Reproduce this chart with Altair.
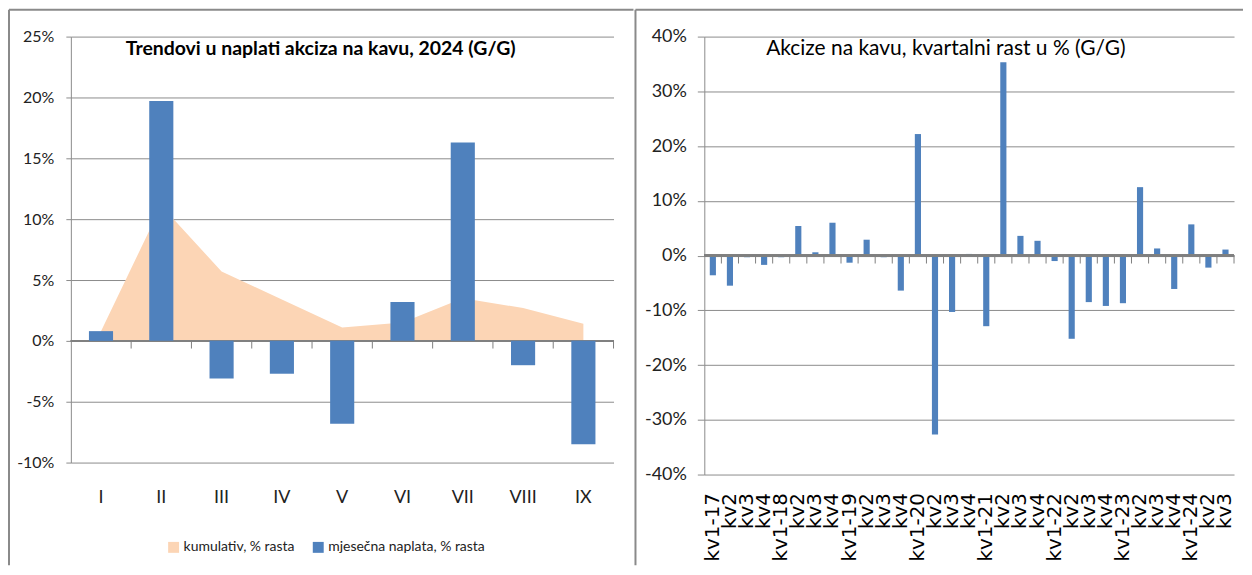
import json
import altair as alt
import pandas as pd

# ---------------- data ----------------
months = ["I", "II", "III", "IV", "V", "VI", "VII", "VIII", "IX"]
monthly = [0.8, 19.7, -3.1, -2.7, -6.8, 3.2, 16.3, -2.0, -8.5]
cumulative = [0.8, 11.1, 5.7, 3.4, 1.1, 1.5, 3.5, 2.7, 1.4]
series_names = ["kumulativ, % rasta", "mjesečna naplata, % rasta"]

q_labels = ["kv1-17", "kv2", "kv3", "kv4",
            "kv1-18", "kv2", "kv3", "kv4",
            "kv1-19", "kv2", "kv3", "kv4",
            "kv1-20", "kv2", "kv3", "kv4",
            "kv1-21", "kv2", "kv3", "kv4",
            "kv1-22", "kv2", "kv3", "kv4",
            "kv1-23", "kv2", "kv3", "kv4",
            "kv1-24", "kv2", "kv3"]
q_values = [-3.6, -5.5, -0.3, -1.7,
            -0.3, 5.4, 0.6, 6.0,
            -1.3, 2.9, -0.3, -6.4,
            22.2, -32.7, -10.3, 0.3,
            -12.9, 35.3, 3.6, 2.7,
            -1.0, -15.2, -8.5, -9.2,
            -8.7, 12.5, 1.3, -6.1,
            5.7, -2.2, 1.1]

left_title = "Trendovi u naplati akciza na kavu, 2024 (G/G)"
right_title = "Akcize na kavu, kvartalni rast u % (G/G)"

left_ticks = [-10, -5, 0, 5, 10, 15, 20, 25]
right_ticks = [-40, -30, -20, -10, 0, 10, 20, 30, 40]

# ---------------- style ----------------
FONT = "Lato, Open Sans, sans-serif"
QFONT = "DejaVu Sans, sans-serif"
BLUE = "#4F81BD"
PEACH = "#FCD5B5"
GRID = "#8C8C8C"
FRAME = "#8A8A8A"

LW, LH = 544, 427
RW, RH = 531, 439

# ---------------- left panel ----------------
ldf = pd.DataFrame({"m": months, "monthly": monthly, "cum": cumulative})
color_scale = alt.Scale(domain=series_names, range=[PEACH, BLUE])
legend = alt.Legend(title=None, orient="none", legendX=96, legendY=505,
                    direction="horizontal", symbolType="square", symbolSize=120,
                    symbolStrokeWidth=0, labelFontSize=14, labelFont=FONT,
                    labelColor="#222", columnPadding=16, labelOffset=3, labelLimit=400)

xl_scale = alt.Scale(paddingInner=0, paddingOuter=0)
xl_axis = alt.Axis(title=None, domain=False, ticks=False, labelAngle=0,
                   labelPadding=26, labelFontSize=18, labelColor="#222")
yl_scale = alt.Scale(domain=[-10, 25], nice=False)
yl_axis = alt.Axis(title=None, values=left_ticks, labelExpr="datum.value + '%'",
                   grid=True, gridColor=GRID, domainColor=GRID, tickColor=GRID,
                   tickSize=5, labelPadding=12, labelFontSize=16, labelColor="#222")

lbase = alt.Chart(ldf)
l_area = lbase.mark_area(opacity=1).transform_calculate(s="'" + series_names[0] + "'").encode(
    x=alt.X("m:N", sort=months, scale=xl_scale, axis=xl_axis),
    y=alt.Y("cum:Q", scale=yl_scale, axis=yl_axis),
    color=alt.Color("s:N", scale=color_scale, legend=legend),
)
l_zero = lbase.mark_rule(color="#7F7F7F", strokeWidth=1).encode(y=alt.datum(0))
l_ticks = lbase.mark_rule(color="#7F7F7F", strokeWidth=1).encode(
    x=alt.X("m:N", sort=months, bandPosition=1),
    y=alt.datum(0), y2=alt.datum(-0.63),
)
l_bars = lbase.mark_bar(width={"band": 0.4}).transform_calculate(s="'" + series_names[1] + "'").encode(
    x=alt.X("m:N", sort=months),
    y=alt.Y("monthly:Q"),
    color=alt.Color("s:N", scale=color_scale, legend=legend),
)
l_title = alt.Chart(pd.DataFrame({"t": [left_title]})).mark_text(
    align="left", baseline="middle", font=FONT, fontSize=19.5, fontWeight="bold", color="#000"
).encode(text="t:N", x=alt.value(55), y=alt.value(12))

fdf = pd.DataFrame({"a": [0]})
l_frame_v = alt.Chart(fdf).mark_rule(color=FRAME, strokeWidth=2).encode(
    x=alt.value(-62), y=alt.value(-27), y2=alt.value(530))
l_frame_h = alt.Chart(fdf).mark_rule(color=FRAME, strokeWidth=2).encode(
    x=alt.value(-62), x2=alt.value(564), y=alt.value(-27))

left = alt.layer(l_frame_v, l_frame_h, l_area, l_zero, l_ticks, l_bars, l_title).properties(
    width=LW, height=LH)

# ---------------- right panel ----------------
keys = [f"q{i:02d}" for i in range(len(q_labels))]
label_map = json.dumps(dict(zip(keys, q_labels)))
rdf = pd.DataFrame({"k": keys, "v": q_values})

xr_scale = alt.Scale(paddingInner=0, paddingOuter=0)
xr_axis = alt.Axis(title=None, domain=False, ticks=False, labelAngle=270,
                   labelExpr=label_map + "[datum.value]", labelPadding=18,
                   labelFont=QFONT, labelFontSize=20, labelColor="#000")
yr_scale = alt.Scale(domain=[-40, 40], nice=False)
yr_axis = alt.Axis(title=None, values=right_ticks, labelExpr="datum.value + '%'",
                   grid=True, gridColor=GRID, domainColor=GRID, tickColor=GRID,
                   tickSize=7, labelPadding=11, labelFontSize=18, labelColor="#222")

rbase = alt.Chart(rdf)
r_zero = rbase.mark_rule(color="#7F7F7F", strokeWidth=1.5).encode(y=alt.datum(0))
r_ticks = rbase.mark_rule(color="#7F7F7F", strokeWidth=1).encode(
    x=alt.X("k:N", sort=keys, bandPosition=1),
    y=alt.datum(0), y2=alt.datum(-1.45),
)
r_bars = rbase.mark_bar(width={"band": 0.36}, color=BLUE).encode(
    x=alt.X("k:N", sort=keys, scale=xr_scale, axis=xr_axis),
    y=alt.Y("v:Q", scale=yr_scale, axis=yr_axis),
)
r_title = alt.Chart(pd.DataFrame({"t": [right_title]})).mark_text(
    align="left", baseline="middle", font=FONT, fontSize=21, color="#000"
).encode(text="t:N", x=alt.value(62), y=alt.value(12))
r_frame_v = alt.Chart(fdf).mark_rule(color=FRAME, strokeWidth=2).encode(
    x=alt.value(-69), y=alt.value(-27), y2=alt.value(530))
r_frame_h = alt.Chart(fdf).mark_rule(color=FRAME, strokeWidth=2).encode(
    x=alt.value(-69), x2=alt.value(540), y=alt.value(-27))

right = alt.layer(r_frame_v, r_frame_h, r_bars, r_zero, r_ticks, r_title).properties(
    width=RW, height=RH)

chart = alt.hconcat(left, right, spacing=0).resolve_scale(color="independent").properties(
    padding=0, background="white"
).configure_view(stroke=None).configure_axis(
    labelFont=FONT
).configure_text(font=FONT)

chart.save("out.html", embed_options={"renderer": "svg", "actions": False})
